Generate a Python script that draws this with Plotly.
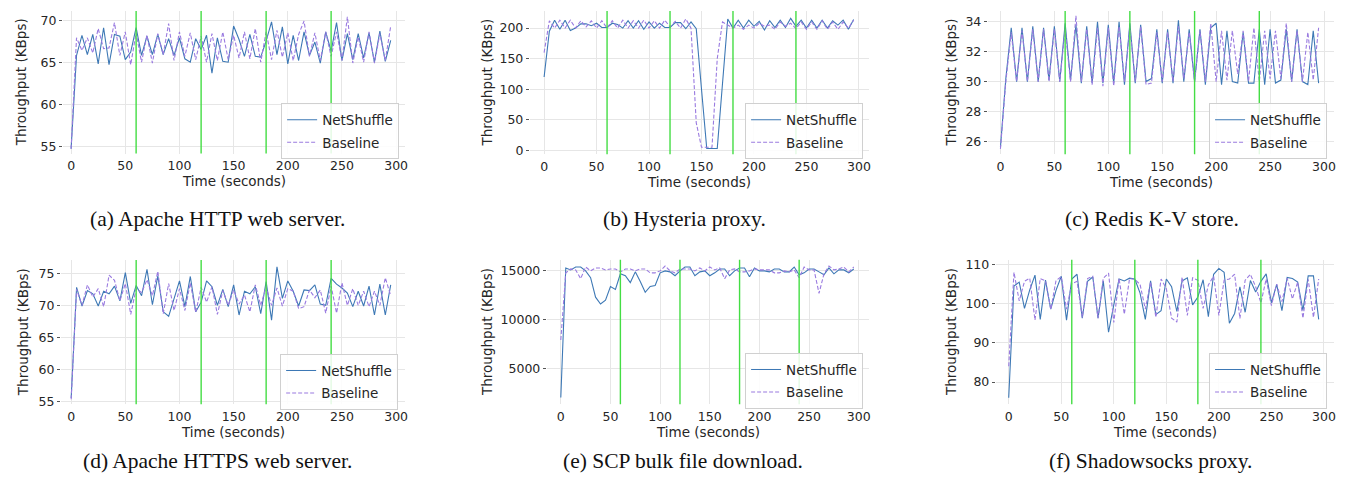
import plotly.graph_objects as go

W, H = 1348, 480

time_s = list(range(0, 300, 5))

# (a) Apache HTTP web server
a_netshuffle = [54.7, 65.8, 68.2, 65.9, 68.3, 64.8, 69.1, 64.7, 68.3, 68.1, 65.3, 66.2, 69.1, 65.8, 68.1, 65.9,
                68.3, 65.9, 67.8, 65.8, 67.9, 65.4, 65.0, 67.8, 66.5, 68.2, 63.7, 67.9, 65.1, 65.0, 69.3, 67.7,
                65.7, 68.3, 65.7, 65.6, 67.5, 69.8, 65.9, 69.2, 64.8, 68.2, 65.2, 68.6, 65.8, 67.4, 64.9, 68.6,
                66.3, 69.7, 65.2, 68.4, 65.3, 68.4, 65.5, 68.5, 65.0, 68.7, 65.1, 67.6]
a_baseline = [54.7, 67.9, 66.4, 67.9, 66.1, 69.0, 66.6, 66.7, 69.7, 65.8, 68.6, 64.7, 68.5, 65.0, 68.2, 64.9,
              68.4, 65.9, 69.6, 65.2, 68.6, 65.7, 68.5, 65.3, 68.1, 65.0, 68.4, 65.2, 68.6, 65.3, 68.2, 65.5,
              68.6, 65.4, 69.0, 65.0, 68.6, 65.3, 68.8, 65.6, 68.5, 65.2, 68.3, 69.9, 65.7, 68.5, 65.2, 68.6,
              65.7, 68.6, 65.2, 70.4, 64.9, 68.0, 65.0, 68.6, 64.9, 68.4, 65.2, 69.3]

# (b) Hysteria proxy
b_netshuffle = [120, 195, 213, 198, 213, 196, 200, 207, 207, 204, 208, 201, 201, 208, 206, 200,
                212, 200, 212, 198, 210, 200, 208, 201, 201, 209, 209, 199, 210, 199, 100, 3,
                3, 3, 109, 215, 200, 213, 200, 213, 203, 211, 197, 212, 201, 213, 201, 216,
                203, 213, 200, 213, 200, 213, 200, 212, 205, 213, 198, 214]
b_baseline = [160, 212, 200, 213, 200, 213, 200, 212, 202, 212, 200, 212, 200, 212, 200, 213,
              200, 212, 200, 213, 200, 212, 200, 213, 202, 211, 200, 215, 200, 45, 5, 5,
              5, 150, 210, 205, 200, 205, 198, 205, 200, 208, 203, 205, 198, 210, 203, 208,
              199, 210, 198, 210, 198, 212, 198, 210, 198, 210, 200, 213]

# (c) Redis K-V store
c_netshuffle = [25.6, 30.2, 33.6, 30.0, 33.6, 30.0, 33.7, 30.0, 33.6, 30.1, 33.7, 30.0, 33.9, 30.1, 33.8, 29.9,
                33.7, 29.9, 34.0, 29.9, 33.8, 29.9, 34.0, 29.8, 33.9, 29.9, 33.8, 30.0, 30.2, 33.5, 29.9, 33.5,
                29.9, 34.1, 30.0, 33.5, 30.0, 33.5, 29.8, 33.6, 33.9, 29.8, 33.4, 30.0, 29.9, 33.3, 29.9, 29.9,
                33.5, 29.8, 33.5, 29.9, 30.1, 33.5, 30.0, 33.5, 30.0, 29.8, 33.4, 29.9]
c_baseline = [25.5, 30.0, 33.3, 30.0, 33.4, 30.0, 33.5, 30.0, 33.5, 30.0, 33.5, 30.0, 33.5, 30.0, 34.4, 30.0,
              33.5, 29.8, 33.6, 29.7, 33.6, 29.7, 33.7, 30.0, 33.7, 30.0, 33.7, 29.8, 29.9, 33.3, 30.0, 33.3,
              30.0, 33.7, 30.2, 33.3, 30.0, 33.4, 30.0, 33.9, 30.0, 33.4, 30.1, 33.4, 30.5, 33.4, 30.0, 33.6,
              30.0, 33.4, 30.2, 33.4, 30.2, 33.9, 30.0, 33.4, 30.0, 33.3, 30.1, 33.6]

# (d) Apache HTTPS web server
d_netshuffle = [55.6, 72.8, 69.9, 72.3, 71.8, 69.9, 72.2, 71.8, 73.0, 70.7, 75.1, 70.3, 73.1, 71.5, 75.6, 70.1,
                74.6, 69.0, 68.3, 71.2, 73.8, 69.8, 74.5, 69.0, 70.5, 73.8, 72.9, 70.0, 72.5, 69.8, 73.2, 68.5,
                72.2, 71.8, 72.9, 68.7, 73.7, 67.7, 76.0, 71.1, 73.8, 72.2, 69.9, 72.4, 72.3, 73.2, 70.2, 70.0,
                74.2, 73.3, 72.7, 71.9, 69.8, 72.2, 69.9, 73.0, 68.5, 73.3, 68.5, 73.2]
d_baseline = [55.4, 72.5, 70.0, 73.2, 71.3, 72.6, 69.8, 74.7, 73.9, 70.7, 73.4, 68.6, 72.6, 72.0, 74.0, 71.5,
              75.3, 68.7, 73.4, 69.2, 72.6, 69.2, 73.5, 68.9, 72.8, 70.5, 72.9, 68.6, 72.3, 70.0, 72.4, 70.2,
              71.6, 69.0, 73.2, 70.0, 72.9, 70.0, 72.7, 69.9, 72.6, 72.2, 69.5, 69.8, 72.4, 71.2, 72.4, 68.8,
              73.0, 68.8, 73.5, 70.0, 72.6, 70.0, 72.2, 69.8, 72.2, 70.0, 74.3, 71.5]

# (e) SCP bulk file download
e_netshuffle = [2000, 15300, 15100, 15400, 15400, 15000, 14300, 12300, 11600, 12000, 13400, 13100, 14700, 14500, 13800, 14900,
                13900, 12800, 13400, 13500, 14800, 15000, 14900, 14500, 15000, 15400, 15400, 14500, 14900, 15000, 14500, 14800,
                15200, 15200, 14500, 15000, 15300, 15300, 14400, 15300, 15000, 15000, 14900, 15200, 15200, 14900, 14900, 15400,
                14600, 14800, 15200, 15200, 14900, 14600, 15300, 14700, 15100, 15100, 14800, 15200]
e_baseline = [7900, 14800, 15200, 15100, 14200, 15400, 15000, 15300, 15300, 15100, 15200, 15200, 14900, 15200, 15200, 15000,
              15200, 15200, 14800, 14800, 15000, 15500, 15000, 14800, 15200, 15200, 15200, 15000, 15300, 15000, 15400, 15100,
              15300, 14200, 15100, 15200, 14900, 14900, 15000, 15200, 15100, 15100, 15100, 14800, 14800, 15000, 14900, 15100,
              14300, 15400, 15100, 15100, 12700, 14700, 15500, 15100, 15200, 15400, 14900, 15400]

# (f) Shadowsocks proxy
f_netshuffle = [76.0, 104.5, 105.5, 98.8, 103.5, 107.3, 96.0, 106.0, 98.6, 103.4, 107.0, 95.8, 106.3, 107.5, 96.3, 105.7,
                106.8, 96.3, 105.8, 92.7, 99.7, 106.3, 105.8, 106.5, 106.3, 102.7, 96.0, 105.8, 97.2, 98.2, 106.3, 104.3,
                98.0, 105.8, 106.6, 99.7, 101.7, 106.1, 96.7, 107.5, 109.0, 108.0, 95.0, 97.5, 104.3, 97.8, 105.9, 103.0,
                105.7, 107.6, 100.2, 104.9, 98.2, 106.7, 106.4, 105.5, 98.3, 107.1, 107.1, 96.0]
f_baseline = [84.0, 108.0, 100.7, 105.7, 106.5, 95.8, 106.4, 105.8, 98.5, 105.9, 106.9, 98.6, 105.1, 105.7, 96.5, 106.4,
              107.0, 96.3, 106.5, 107.8, 95.2, 106.5, 97.3, 106.4, 106.2, 104.9, 98.6, 105.6, 96.5, 106.3, 103.8, 96.3,
              95.3, 106.8, 97.0, 106.6, 106.0, 98.8, 104.8, 107.0, 97.0, 106.0, 106.3, 107.5, 96.2, 106.0, 107.5, 104.3,
              100.2, 106.3, 99.5, 105.0, 100.5, 106.5, 101.2, 105.5, 96.3, 106.2, 96.5, 106.3]

x_ticks = [0, 50, 100, 150, 200, 250, 300]
switch_times = [60, 120, 180, 240]
captions = ["(a) Apache HTTP web server.", "(b) Hysteria proxy.", "(c) Redis K-V store.",
            "(d) Apache HTTPS web server.", "(e) SCP bulk file download.", "(f) Shadowsocks proxy."]
y_ticks = [[55, 60, 65, 70], [0, 50, 100, 150, 200], [26, 28, 30, 32, 34],
           [55, 60, 65, 70, 75], [5000, 10000, 15000], [80, 90, 100, 110]]

series = [(a_netshuffle, a_baseline), (b_netshuffle, b_baseline), (c_netshuffle, c_baseline),
          (d_netshuffle, d_baseline), (e_netshuffle, e_baseline), (f_netshuffle, f_baseline)]

# layout in pixels: plot box (L, R, T, B), x range, y range
panels = [
    dict(box=(55, 398, 0, 145), xr=(-7.6, 308.3), yr=(54.13, 71.09), ytitle_x=13, cap=(210, 212), leg=(392, 94)),
    dict(box=(523, 863, 0, 145.7), xr=(-13.6, 309.7), yr=(-6.4, 228.0), ytitle_x=480, cap=(678, 212), leg=(857, 94)),
    dict(box=(982, 1329, 0, 145.7), xr=(-11.7, 309.3), yr=(25.14, 34.72), ytitle_x=945, cap=(1147, 212), leg=(1322, 94)),
    dict(box=(53, 398, 253.3, 400), xr=(-9.5, 308.3), yr=(54.6, 77.05), ytitle_x=15, cap=(210, 458), leg=(391, 349)),
    dict(box=(540, 863, 253, 400), xr=(-14.1, 310.4), yr=(1293, 16141), ytitle_x=480, cap=(677, 458), leg=(857, 348)),
    dict(box=(990, 1329, 253, 400), xr=(-12.3, 309.6), yr=(74.3, 111.2), ytitle_x=945, cap=(1145, 458), leg=(1322, 348)),
]

BLUE = "#3d78b5"
PURPLE = "#9a7be0"
GREEN = "#44dd44"
TXT = "#262626"
FONT = "DejaVu Sans"

fig = go.Figure()
annotations = []
shapes = []
layout = {}

for i, (p, (ns, bl)) in enumerate(zip(panels, series)):
    k = i + 1
    sfx = "" if k == 1 else str(k)
    L, R, T, B = p["box"]
    xa, ya = "x" + sfx, "y" + sfx
    leg = "legend" + sfx
    fig.add_trace(go.Scatter(x=time_s, y=ns, mode="lines", name="NetShuffle", xaxis=xa, yaxis=ya,
                             line=dict(color=BLUE, width=1.1), legend=leg, legendgroup="n%d" % k))
    fig.add_trace(go.Scatter(x=time_s, y=bl, mode="lines", name="Baseline", xaxis=xa, yaxis=ya,
                             line=dict(color=PURPLE, width=1.1, dash="4px,2px"), legend=leg, legendgroup="b%d" % k))
    layout["xaxis" + sfx] = dict(domain=[L / W, R / W], range=list(p["xr"]), anchor=ya,
                                 tickvals=x_ticks, showgrid=True, gridcolor="#e6e6e6", gridwidth=1,
                                 zeroline=False, showline=False, ticks="",
                                 tickfont=dict(family=FONT, size=12.5, color=TXT), ticklabelstandoff=3)
    layout["yaxis" + sfx] = dict(domain=[1 - B / H, 1 - T / H], range=list(p["yr"]), anchor=xa,
                                 tickvals=y_ticks[i], ticktext=[str(v) for v in y_ticks[i]],
                                 showgrid=True, gridcolor="#e6e6e6", gridwidth=1,
                                 zeroline=False, showline=False, ticks="outside", ticklen=3,
                                 tickcolor="#555", tickwidth=1,
                                 tickfont=dict(family=FONT, size=12.5, color=TXT))
    lx, ly = p["leg"]
    layout[leg] = dict(x=lx / W, y=1 - ly / H, xanchor="right", yanchor="top",
                       bgcolor="rgba(255,255,255,0.85)", bordercolor="#d0d0d0", borderwidth=1,
                       font=dict(family=FONT, size=13.5, color=TXT), tracegroupgap=2,
                       itemwidth=30)
    for t in switch_times:
        shapes.append(dict(type="line", xref=xa, yref=ya + " domain", x0=t, x1=t, y0=0, y1=1,
                           line=dict(color=GREEN, width=1.4), layer="above"))
    # axis titles
    annotations.append(dict(text="Throughput (KBps)", xref="paper", yref="paper",
                            x=p["ytitle_x"] / W, y=1 - (T + B) / 2 / H, textangle=-90,
                            showarrow=False, xanchor="center", yanchor="middle",
                            font=dict(family=FONT, size=13.5, color=TXT)))
    annotations.append(dict(text="Time (seconds)", xref="paper", yref="paper",
                            x=(L + R) / 2 / W, y=1 - (B + 28) / H,
                            showarrow=False, xanchor="center", yanchor="middle",
                            font=dict(family=FONT, size=13.5, color=TXT)))
    cx, cy = p["cap"]
    annotations.append(dict(text=captions[i], xref="paper", yref="paper", x=cx / W, y=1 - cy / H,
                            showarrow=False, xanchor="center", yanchor="middle",
                            font=dict(family="Liberation Serif", size=21.5, color="#111")))

fig.update_layout(width=W, height=H, margin=dict(l=0, r=0, t=0, b=0),
                  plot_bgcolor="white", paper_bgcolor="white", showlegend=True,
                  annotations=annotations, shapes=shapes, **layout)

fig.write_html("out.html")
